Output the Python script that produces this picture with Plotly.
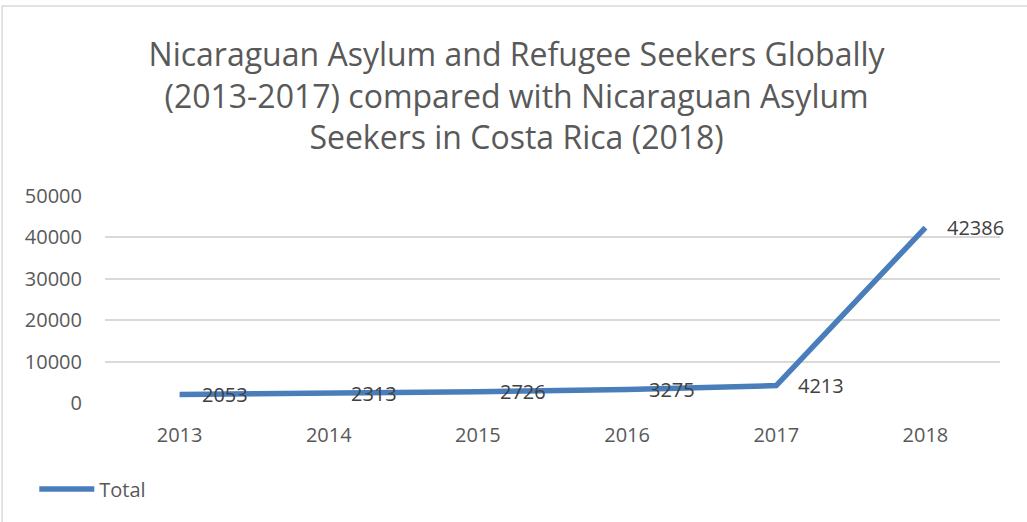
import plotly.graph_objects as go

years = ["2013", "2014", "2015", "2016", "2017", "2018"]
totals = [2053, 2313, 2726, 3275, 4213, 42386]
y_ticks = [0, 10000, 20000, 30000, 40000, 50000]

title_lines = [
    "Nicaraguan Asylum and Refugee Seekers Globally",
    "(2013-2017) compared with Nicaraguan Asylum",
    "Seekers in Costa Rica (2018)",
]

GREY = "#595959"
BLUE = "#4a7ebb"
FONT = "Open Sans"

fig = go.Figure()
fig.add_trace(go.Scatter(
    x=years, y=totals, name="Total", mode="lines",
    line=dict(color=BLUE, width=5.5),
))

# value labels placed to the right of each point
for i, v in enumerate(totals):
    fig.add_annotation(
        x=i, y=v, xref="x", yref="y", text=str(v), showarrow=False,
        xanchor="left", yanchor="middle", xshift=20,
        font=dict(family=FONT, size=20, color="#404040"),
    )

fig.update_layout(
    width=1027, height=522,
    margin=dict(l=105, r=27, t=196, b=119),
    paper_bgcolor="white", plot_bgcolor="white",
    font=dict(family=FONT, color=GREY),
    title=dict(
        text="<br>".join(title_lines),
        x=0.503, xanchor="center", yref="container", y=1 - 66 / 522,
        yanchor="middle",
        font=dict(family=FONT, size=32, color=GREY),
    ),
    xaxis=dict(
        type="category", range=[-0.5, 5.5],
        showgrid=False, showline=False, zeroline=False,
        ticks="", tickfont=dict(size=20, color=GREY), ticklabelstandoff=18,
    ),
    yaxis=dict(
        range=[0, 50000], tickvals=y_ticks, tickformat="d",
        showgrid=True, gridcolor="#d9d9d9", gridwidth=1.5,
        zeroline=False, showline=False, ticks="",
        tickfont=dict(size=20, color=GREY), ticklabelstandoff=22,
    ),
    showlegend=True,
    legend=dict(
        orientation="h", x=-0.079, xanchor="left", y=-0.415, yanchor="middle",
        font=dict(family=FONT, size=20, color=GREY),
        bgcolor="rgba(0,0,0,0)", itemwidth=55,
    ),
    shapes=[dict(
        type="rect", xref="paper", yref="paper",
        x0=-0.115, x1=1.2, y0=-1.0, y1=1.918,
        line=dict(color="#d9d9d9", width=1.5), fillcolor="rgba(0,0,0,0)",
        layer="below",
    )],
)

fig.write_html("out.html")
